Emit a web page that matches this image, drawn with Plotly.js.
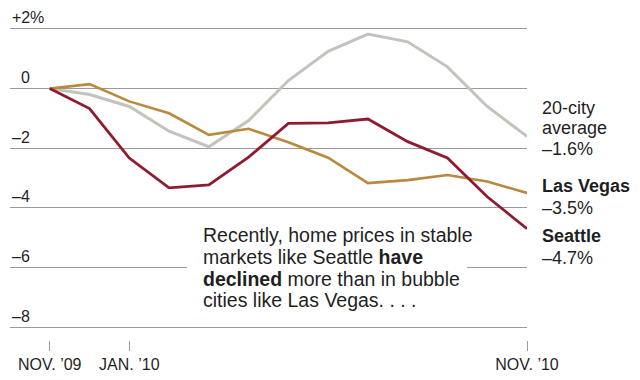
<!DOCTYPE html>
<html>
<head>
<meta charset="utf-8">
<script src="https://cdn.plot.ly/plotly-3.0.1.min.js"></script>
<style>html,body{margin:0;padding:0;background:#fff;}#chart{width:640px;height:380px;}</style>
</head>
<body>
<div id="chart"></div>
<script>
// ---- Data (percent change since Nov. 2009) ----
const months = ['Nov 2009','Dec 2009','Jan 2010','Feb 2010','Mar 2010','Apr 2010','May 2010','Jun 2010','Jul 2010','Aug 2010','Sep 2010','Oct 2010','Nov 2010'];
const cityAvg   = [0, -0.2, -0.6, -1.43, -1.95, -1.07, 0.27, 1.25, 1.83, 1.57, 0.73, -0.6, -1.6];
const lasVegas  = [0, 0.15, -0.43, -0.83, -1.55, -1.35, -1.8, -2.32, -3.17, -3.07, -2.9, -3.12, -3.5];
const seattle   = [0, -0.67, -2.33, -3.33, -3.23, -2.3, -1.17, -1.15, -1.02, -1.78, -2.33, -3.63, -4.7];
const xTickIdx  = [0, 2, 12];
const xTickText = ['NOV. \u201909', 'JAN. \u201910', 'NOV. \u201910'];
const yTickVals = [2, 0, -2, -4, -6, -8];
const yTickText = ['+2', '0', '\u20132', '\u20134', '\u20136', '\u20138'];
const noteLines = ['Recently, home prices in stable',
                   'markets like Seattle <b>have</b>',
                   '<b>declined</b> more than in bubble',
                   'cities like Las Vegas. . . .'];
const labelLines = [
  {text: '20-city', py: 108, bold: false},
  {text: 'average', py: 128, bold: false},
  {text: '\u20131.6%', py: 149, bold: false},
  {text: 'Las Vegas', py: 186.5, bold: true},
  {text: '\u20133.5%', py: 207.5, bold: false},
  {text: 'Seattle', py: 236, bold: true},
  {text: '\u20134.7%', py: 257.5, bold: false}
];

const x = months.map((_, i) => i);
const FONT = 'Liberation Sans, Arial, Helvetica, sans-serif';
const TXT = '#1f1f1f';

// layout geometry (pixels)
const L = 10, R = 113, T = 26, B = 40;
const W = 640, H = 380;
const pw = W - L - R, ph = H - T - B;
const px2x = p => (p - L) / pw;
const py2y = p => (H - B - p) / ph;

const traces = [
  {x, y: cityAvg, mode: 'lines', line: {color: '#c3c3bd', width: 3}, hoverinfo: 'skip'},
  {x, y: lasVegas, mode: 'lines', line: {color: '#b8893f', width: 2.6}, hoverinfo: 'skip'},
  {x, y: seattle, mode: 'lines', line: {color: '#8e1b30', width: 2.8}, hoverinfo: 'skip'}
];

const annotations = [];
yTickVals.forEach((v, i) => {
  annotations.push({xref: 'paper', yref: 'y', x: px2x(32), y: v, yshift: 11,
    xanchor: 'right', yanchor: 'middle', showarrow: false, text: yTickText[i],
    font: {family: FONT, size: 16, color: TXT}});
});
annotations.push({xref: 'paper', yref: 'y', x: px2x(32), y: yTickVals[0], yshift: 11, xshift: -4,
  xanchor: 'left', yanchor: 'middle', showarrow: false, text: '%',
  font: {family: FONT, size: 16, color: TXT}});

const noteY = [235, 257, 279, 300];
noteLines.forEach((t, i) => {
  annotations.push({xref: 'paper', yref: 'paper', x: px2x(201), y: py2y(noteY[i]),
    xanchor: 'left', yanchor: 'middle', showarrow: false, text: t, align: 'left',
    font: {family: FONT, size: 19.5, color: TXT}});
});
labelLines.forEach(l => {
  annotations.push({xref: 'paper', yref: 'paper', x: px2x(540), y: py2y(l.py),
    xanchor: 'left', yanchor: 'middle', showarrow: false,
    text: l.bold ? '<b>' + l.text + '</b>' : l.text,
    font: {family: FONT, size: 18, color: TXT}});
});

const layout = {
  width: W, height: H,
  margin: {l: L, r: R, t: T, b: B, pad: 0},
  paper_bgcolor: '#fff', plot_bgcolor: '#fff',
  showlegend: false,
  xaxis: {
    range: [-1, 12], anchor: 'free', position: 0,
    showgrid: false, zeroline: false, showline: false,
    tickvals: xTickIdx, ticktext: xTickText,
    ticks: 'outside', ticklen: 10, tickwidth: 1, tickcolor: '#9a9a9a',
    tickfont: {family: FONT, size: 16, color: TXT}, fixedrange: true
  },
  yaxis: {
    range: [-8.1, 2.1], domain: [py2y(330), 1],
    tickvals: yTickVals, showticklabels: false, ticks: '',
    showgrid: true, gridcolor: '#9a9a9a', gridwidth: 1,
    zeroline: false, showline: false, fixedrange: true
  },
  shapes: [
    {type: 'rect', layer: 'above', xref: 'paper', yref: 'y',
     x0: px2x(187), x1: px2x(467), y0: -5.85, y1: -6.15,
     fillcolor: '#fff', line: {width: 0}}
  ],
  annotations
};

Plotly.newPlot('chart', traces, layout, {displayModeBar: false, staticPlot: true});
</script>
</body>
</html>
